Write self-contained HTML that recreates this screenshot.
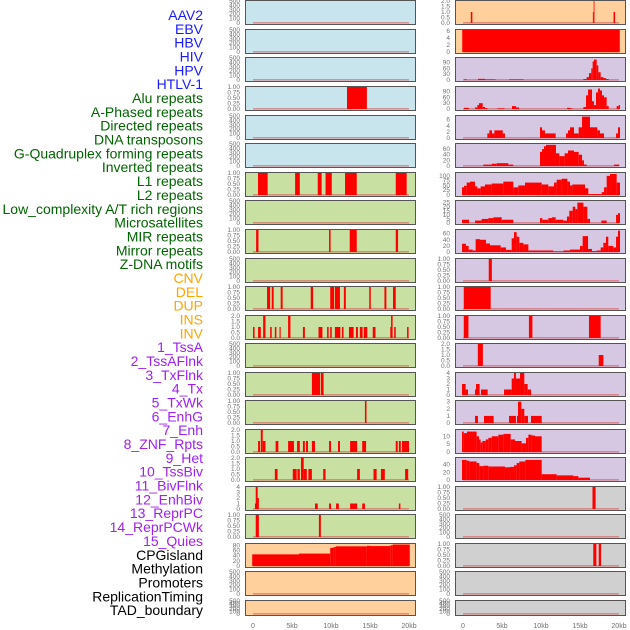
<!DOCTYPE html>
<html><head><meta charset="utf-8"><style>
html,body{margin:0;padding:0;background:#fff;}
svg{display:block;font-family:"Liberation Sans",sans-serif;}
</style></head><body>
<svg id="chart" width="630" height="630" viewBox="0 0 630 630" xmlns="http://www.w3.org/2000/svg"></svg>
<script>
// ---- data ----
const trackLabels = ["AAV2","EBV","HBV","HIV","HPV","HTLV-1","Alu repeats","A-Phased repeats","Directed repeats","DNA transposons","G-Quadruplex forming repeats","Inverted repeats","L1 repeats","L2 repeats","Low_complexity A/T rich regions","Microsatellites","MIR repeats","Mirror repeats","Z-DNA motifs","CNV","DEL","DUP","INS","INV","1_TssA","2_TssAFlnk","3_TxFlnk","4_Tx","5_TxWk","6_EnhG","7_Enh","8_ZNF_Rpts","9_Het","10_TssBiv","11_BivFlnk","12_EnhBiv","13_ReprPC","14_ReprPCWk","15_Quies","CPGisland","Methylation","Promoters","ReplicationTiming","TAD_boundary"];
const labelGroups = [6,13,5,15,5];
const xTickLabels = ["0","5kb","10kb","15kb","20kb"];
const xTickValues = [0,5,10,15,20];

const tE = ["0","100","200","300","400","500"];
const t1 = ["0.00","0.25","0.50","0.75","1.00"];
const t2 = ["0.0","0.5","1.0","1.5","2.0"];

const leftBg = ["b","b","b","b","b","b","g","g","g","g","g","g","g","g","g","g","g","g","g","o","o","o"];
const leftMax = [500,500,500,1,500,500,1,500,1,500,1,2,500,1,1,2,2,4,1,85,500,500];
const leftTicks = [tE,tE,tE,t1,tE,tE,t1,tE,t1,tE,t1,t2,tE,t1,t1,t2,t2,["0","1","2","3","4"],t1,["0","20","40","60","80"],tE,tE];
const leftBars = [
 [],[],[],[[12.05,14.6,1]],[],[],
 [[0.64,1.88,1],[5.4,6.0,1],[8.3,8.8,1],[9.3,10.1,1],[11.8,13.3,1],[18.3,19.7,1]],
 [],
 [[0.4,0.7,1],[9.75,9.95,1],[12.4,13.3,1],[18.3,18.6,1]],
 [],
 [[1.8,2.2,1],[2.4,2.65,1],[3.55,3.8,1],[7.4,7.7,1],[9.9,10.4,1],[10.5,11.15,1],[11.65,11.9,1],[14.9,15.1,1],[16.85,17.1,1],[17.95,18.3,1]],
 [[0,0.2,1],[0.65,1.0,1],[1.3,1.6,2],[2.2,2.4,1],[2.8,3.0,1],[3.4,3.55,1],[4.5,4.8,2],[6.4,6.65,1],[8.4,8.9,1],[9.5,9.7,1],[9.9,10.1,1],[10.5,11.2,1],[11.4,11.6,1],[12.3,12.9,1],[13.2,13.45,1],[13.7,14.05,1],[14.2,14.65,1],[15.35,15.7,1],[17.6,17.8,1],[17.7,17.9,2],[18.1,18.3,1],[19.75,19.95,1]],
 [],
 [[7.55,8.6,1],[8.7,9.05,1]],
 [[14.35,14.55,1]],
 [[0.65,0.9,1],[1.0,1.25,2],[1.25,1.6,1],[2.9,3.25,1],[4.5,5.25,1],[5.65,6.0,1],[6.4,6.65,1],[6.8,7.05,1],[7.55,7.95,1],[9.75,10.0,1],[10.9,11.15,1],[12.45,13.35,1],[14.0,14.5,1],[18.3,18.55,1],[18.7,18.95,1],[19.1,20.0,1]],
 [[2.8,3.15,1],[5.1,5.6,1],[5.7,6.0,1],[6.15,6.5,2],[6.5,6.9,1],[7.1,7.55,1],[9.0,9.3,1],[13.35,13.7,1],[15.45,15.85,1],[16.4,16.9,1],[19.5,19.9,1]],
 [[0.25,0.5,1],[0.35,0.6,4],[0.5,0.75,2],[7.95,8.3,1],[9.75,10.0,1],[10.65,11.0,1],[12.45,13.35,1],[14.0,14.35,1],[18.7,18.9,1]],
 [[0.35,0.75,1],[8.45,8.7,1]],
 [[-0.1,5.9,45],[5.9,9.9,48],[9.9,10.3,70],[10.3,10.6,73],[10.6,14.6,76],[14.6,15.0,78],[15.0,17.6,77],[17.6,17.9,80],[17.9,20.1,83]],
 [],[]
];

const rightBg = ["o","o","p","p","p","p","p","p","p","p","p","p","p","p","p","p","p","r","r","r","r","r"];
const rightMax = [2,6.3,113,113,7.2,78,115,27,72,1,1,1,2,4,3.1,14,57,1,500,1,500,500];
const rightTicks = [t2,["0","2","4","6"],["0","30","60","90"],["0","30","60","90"],["0","2","4","6"],["0","20","40","60"],["0","25","50","75","100"],["0","5","10","15","20","25"],["0","20","40","60"],t1,t1,t1,t2,["0","1","2","3","4"],["0","1","2","3"],["0","5","10"],["0","20","40"],t1,tE,t1,tE,tE];
const rightBars = [
 [[1.0,1.2,1],[16.65,16.75,1],[16.75,16.85,2],[19.3,19.5,1]],
 [[-0.1,20.1,6.3]],
 [[0.13,0.51,3],[1.92,2.82,6],[2.82,4.19,3],[5.9,7.78,3],[15.43,15.85,5],[15.85,16.15,15],[16.15,16.45,35],[16.45,16.62,60],[16.62,16.79,95],[16.79,17.14,105],[17.14,17.35,75],[17.35,17.65,40],[17.65,17.99,15],[17.99,18.33,10],[18.33,18.68,5]],
 [[0.13,0.77,6],[1.54,1.84,8],[1.84,2.05,20],[2.05,2.52,30],[2.52,2.82,10],[2.82,3.12,5],[4.4,5.34,3],[6.28,6.79,15],[6.79,7.18,8],[13.33,13.72,6],[13.72,14.06,3],[15.43,15.77,10],[15.77,16.03,70],[16.03,16.54,100],[16.54,16.79,40],[16.79,17.05,20],[17.05,17.31,85],[17.31,17.56,105],[17.56,17.82,95],[17.82,18.08,70],[18.08,18.42,60],[18.42,18.68,15],[19.7,19.96,15],[19.96,20.13,20]],
 [[3.12,3.38,1.5],[3.38,3.72,2.5],[3.72,4.02,1.5],[4.02,5.09,2.5],[5.09,5.38,1.5],[9.87,10.13,3.5],[10.13,10.51,2.5],[10.51,11.88,1.5],[13.21,13.46,1.5],[13.46,13.72,2.5],[13.72,14.23,3.5],[14.23,14.83,1.5],[14.83,15.26,3.5],[15.26,16.28,7],[16.28,17.22,3.5],[17.22,17.56,2.5],[17.56,18.08,1.5],[19.62,19.87,1.5],[19.87,20.13,3.5]],
 [[2.61,3.68,5],[3.68,4.32,8],[4.32,5.81,10],[5.81,6.45,5],[9.87,10.13,50],[10.13,10.38,60],[10.38,10.64,70],[10.64,11.92,75],[11.92,12.35,45],[12.35,13.03,35],[13.03,13.46,45],[13.46,14.23,55],[14.23,14.83,50],[14.83,15.26,40],[15.26,15.51,20],[15.51,15.85,5],[19.36,20.04,5]],
 [[-0.13,0.13,40],[0.13,0.47,48],[0.47,0.9,65],[0.9,1.54,70],[1.54,1.84,45],[1.84,2.26,35],[2.26,2.82,45],[2.82,3.68,55],[3.68,5.17,60],[5.17,6.45,70],[6.45,7.09,40],[7.09,7.95,50],[7.95,10.09,65],[10.09,10.94,55],[10.94,11.67,45],[11.67,12.01,65],[12.01,12.65,80],[12.65,13.38,85],[13.38,13.72,70],[13.72,14.02,50],[14.02,15.64,55],[15.64,16.07,35],[16.07,17.78,5],[17.78,18.08,15],[18.08,18.42,40],[18.42,18.85,100],[18.85,19.7,110],[19.7,20.13,65]],
 [[-0.13,0.77,4],[1.54,2.39,3],[2.39,3.25,5],[3.25,3.89,6],[3.89,4.96,7],[4.96,6.45,4],[9.87,10.17,6],[10.17,10.94,4],[10.94,11.41,6],[11.41,11.88,7],[11.88,12.86,4],[12.86,13.33,3],[13.33,13.63,8],[13.63,14.06,15],[14.06,14.4,20],[14.4,14.66,17],[14.66,15.43,25],[15.43,15.94,20],[15.94,16.28,5],[17.74,18.42,3],[19.62,19.87,10],[19.87,20.13,12]],
 [[-0.13,0.38,27],[0.38,0.73,20],[0.73,1.24,8],[1.24,1.62,5],[1.62,2.18,42],[2.18,2.95,40],[2.95,3.46,28],[3.46,4.83,22],[4.83,5.51,15],[5.51,6.24,7],[6.24,6.54,45],[6.54,6.88,65],[6.88,7.22,50],[7.22,7.74,30],[7.74,8.38,25],[8.38,11.58,5],[11.58,12.86,2],[12.86,13.72,5],[13.72,15.0,8],[15.0,15.34,20],[15.34,16.03,52],[16.03,16.54,10],[16.54,17.14,3],[17.14,17.65,5],[17.65,17.99,15],[17.99,18.33,30],[18.33,18.63,50],[18.63,19.27,20],[19.27,19.62,15],[19.62,19.87,50],[19.87,20.13,70]],
 [[3.3,3.7,1]],
 [[0.1,3.55,1]],
 [[0.1,0.7,1],[8.45,8.9,1],[16.15,17.65,1]],
 [[1.9,2.55,2],[17.4,18.0,1]],
 [[-0.13,0.34,2],[0.34,0.64,1],[1.54,1.75,1],[1.67,2.13,2],[2.3,3.16,1],[5.26,5.51,1],[5.51,6.24,1],[6.24,6.54,3],[6.54,6.79,4],[6.79,7.31,3],[7.31,7.86,4],[7.86,8.29,2],[8.29,8.72,1]],
 [[1.54,1.92,1],[2.69,3.93,1],[5.9,6.79,1],[6.92,7.05,1],[7.05,7.48,3],[7.48,7.86,2],[7.86,8.33,1],[8.72,10.09,1]],
 [[-0.13,0.09,13],[0.09,0.51,12],[0.51,1.75,13],[1.75,2.05,10],[2.05,2.26,8],[2.26,2.48,6],[2.48,2.91,7],[2.91,3.25,8],[3.25,3.68,9],[3.68,4.53,10],[4.53,5.17,11],[5.17,6.11,11.5],[6.11,6.67,8],[6.67,7.52,7],[7.52,8.08,5.5],[8.08,8.38,9],[8.38,8.8,11],[8.8,9.23,10.5],[9.23,10.09,10]],
 [[-0.13,0.47,52],[0.47,0.81,50],[0.81,1.75,48],[1.75,2.09,44],[2.09,2.61,36],[2.61,3.25,37],[3.25,5.38,35],[5.38,6.03,33],[6.03,6.54,34],[6.54,6.88,38],[6.88,7.22,44],[7.22,7.99,48],[7.99,10.09,52],[10.09,12.01,15],[12.01,14.15,12],[14.15,14.79,10],[14.79,16.28,6]],
 [[16.6,17.0,1]],
 [],
 [[16.7,17.1,1],[17.4,17.7,1]],
 [],[]
];

// ---- layout ----
const NS = "http://www.w3.org/2000/svg";
const svg = document.getElementById("chart");
const panelTops = [0,29,57,86,115,143,172,200,229,258,286,315,343,372,400,429,457,486,514,543,571,600];
const bgColors = {b:"#c8e4ec",g:"#c8e0a2",o:"#ffd09c",p:"#d6c8e3",r:"#d0d0d0"};
const groupColors = ["#1a1aff","#006400","#ffa500","#a020f0","#000000"];
function mk(tag, attrs, parent){const e=document.createElementNS(NS,tag);for(const k in attrs)e.setAttribute(k,attrs[k]);(parent||svg).appendChild(e);return e;}
function xScale(col,kb){return (col===0?253:463)+kb*7.8;}
function panelH(i){return i===21?16:25;}
function yScale(i,max,v){const top=panelTops[i],h=panelH(i);const b=top+h-2;return b-(v/max)*(h-3);}

let gi=0,cnt=0;
trackLabels.forEach((t,k)=>{
  if(cnt>=labelGroups[gi]){gi++;cnt=0;}
  cnt++;
  const el=mk("text",{x:203,y:(20+k*13.84).toFixed(1),"text-anchor":"end","font-size":"14",fill:groupColors[gi]});
  
  
  el.textContent=t;
});

function drawColumn(col,bgs,maxs,ticks,bars){
  const x0=col===0?245:455, w=171, tx=col===0?240:450;
  panelTops.forEach((top,i)=>{
    const h=panelH(i);
    const g=mk("g",{});
    
    
    mk("rect",{x:x0,y:top,width:w,height:h,fill:bgColors[bgs[i]]},g);
    mk("rect",{x:xScale(col,0),y:top+h-3,width:xScale(col,20)-xScale(col,0),height:1.6,fill:"#d8504f","fill-opacity":"0.55"},g);
    bars[i].forEach(bv=>{
      const x1=xScale(col,bv[0]),x2=xScale(col,bv[1]);
      const y=yScale(i,maxs[i],Math.min(bv[2],maxs[i]));
      const r=mk("rect",{x:x1.toFixed(2),y:y.toFixed(2),width:Math.max(0.8,x2-x1).toFixed(2),height:(top+h-2-y).toFixed(2),fill:"#ff0000"},g);
      
      
    });
    mk("rect",{x:x0+0.5,y:top+0.5,width:w-1,height:h-1,fill:"none",stroke:"#555","stroke-width":"1"},g);
    const tl=ticks[i];
    tl.forEach((lab,j)=>{
      const v = maxs[i]===500? j*100 : parseFloat(lab);
      const t=mk("text",{x:tx,y:(yScale(i,maxs[i],v)+2).toFixed(1),"text-anchor":"end","font-size":"6.5",fill:"#707070"},g);
      
      
      t.textContent=lab;
    });
  });
  xTickValues.forEach((v,j)=>{
    const t=mk("text",{x:xScale(col,v),y:628,"text-anchor":"middle","font-size":"7",fill:"#707070"});
    
    
    t.textContent=xTickLabels[j];
  });
}
drawColumn(0,leftBg,leftMax,leftTicks,leftBars);
drawColumn(1,rightBg,rightMax,rightTicks,rightBars);
</script>
</body></html>
